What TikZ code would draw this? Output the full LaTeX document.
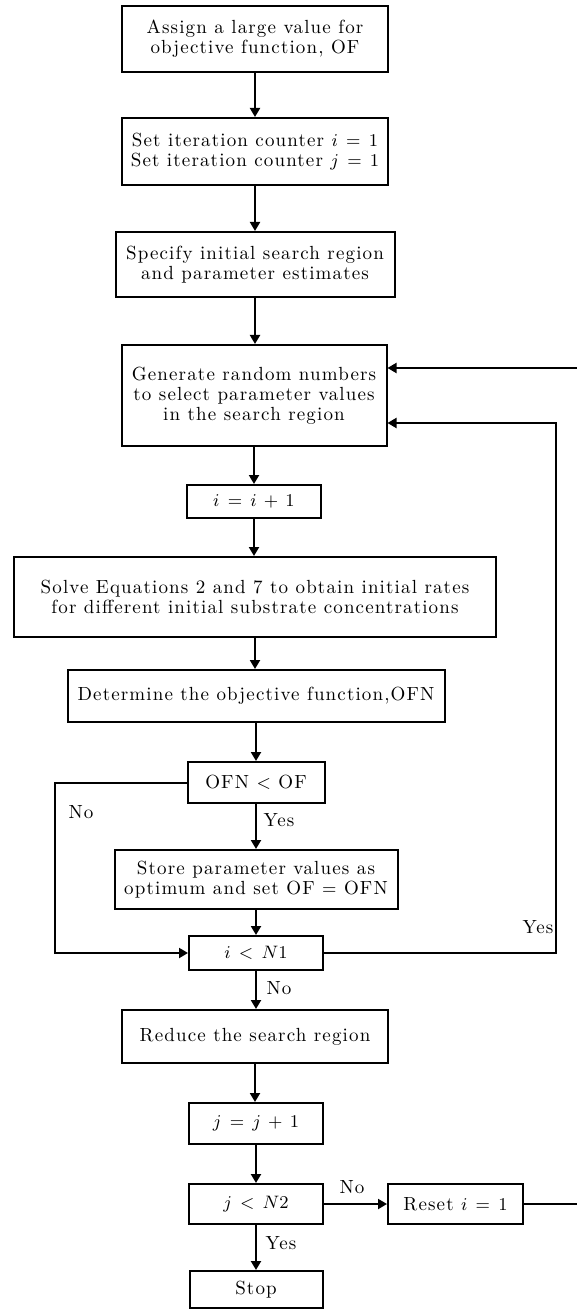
\documentclass[tikz,border=0pt]{standalone}
\usepackage{fontspec}
\setmainfont{lmroman10-regular.otf}[LetterSpace=6,BoldFont=lmroman10-bold.otf,ItalicFont=lmroman10-italic.otf]
\usetikzlibrary{arrows.meta}
\newcommand\mywidemath{\thickmuskip=8mu\relax\medmuskip=7mu\relax}
\begin{document}
\begin{tikzpicture}[x=0.5pt,y=-0.5pt,
  every node/.style={font=\fontsize{9.5}{10}\selectfont\mywidemath},
  box/.style={draw,line width=1pt,inner sep=0pt,align=center,anchor=center},
  arr/.style={line width=1pt,-{Triangle[length=4.5pt,width=5pt]}},
  lbl/.style={inner sep=0pt}]
\useasboundingbox (0,0) rectangle (577,1310);
\node[box,minimum width=133pt,minimum height=33pt] (n1) at (255,39) {Assign a large value for\\objective function, OF};
\node[box,minimum width=133pt,minimum height=33.5pt] (n2) at (255,151.5) {Set iteration counter $i=1$\\Set iteration counter $j=1$};
\node[box,minimum width=139.5pt,minimum height=32.5pt] (n3) at (255,264.5) {Specify initial search region\\and parameter estimates};
\node[box,minimum width=132.5pt,minimum height=50.5pt] (n4) at (254,395.5) {Generate random numbers\\to select parameter values\\in the search region};
\node[box,minimum width=67pt,minimum height=16.5pt] (n5) at (254,501.5) {$i=i+1$};
\node[box,minimum width=241pt,minimum height=40pt] (n6) at (255,597) {Solve Equations 2 and 7 to obtain initial rates\\for different initial substrate concentrations};
\node[box,minimum width=188.5pt,minimum height=26pt] (n7) at (256,696) {Determine the objective function,OFN};
\node[box,minimum width=68.5pt,minimum height=20.5pt] (n8) at (256,782.5) {OFN $<$ OF};
\node[box,minimum width=141.5pt,minimum height=29.5pt] (n9) at (256,879.5) {Store parameter values as\\optimum and set OF $=$ OFN};
\node[box,minimum width=67pt,minimum height=17pt] (n10) at (256,953) {$i<N1$};
\node[box,minimum width=133pt,minimum height=26.5pt] (n11) at (255,1036.5) {Reduce the search region};
\node[box,minimum width=67pt,minimum height=20.5pt] (n12) at (256,1123.5) {$j=j+1$};
\node[box,minimum width=67pt,minimum height=20pt] (n13) at (256,1204) {$j<N2$};
\node[box,minimum width=67.5pt,minimum height=20pt] (n14) at (455.5,1204) {Reset $i=1$};
\node[box,minimum width=66.5pt,minimum height=18.5pt] (n15) at (256,1289.5) {Stop};
% vertical flow
\draw[arr] (n1.south) -- (n1.south |- n2.north);
\draw[arr] (n2.south) -- (n2.south |- n3.north);
\draw[arr] (n3.south) -- (n3.south |- n4.north);
\draw[arr] (n4.south) -- (n4.south |- n5.north);
\draw[arr] (n5.south) -- (n5.south |- n6.north);
\draw[arr] (n6.south) -- (n6.south |- n7.north);
\draw[arr] (n7.south) -- (n7.south |- n8.north);
\draw[arr] (n8.south) -- (n8.south |- n9.north);
\draw[arr] (n9.south) -- (n9.south |- n10.north);
\draw[arr] (n10.south) -- (n10.south |- n11.north);
\draw[arr] (n11.south) -- (n11.south |- n12.north);
\draw[arr] (n12.south) -- (n12.south |- n13.north);
\draw[arr] (n13.south) -- (n13.south |- n15.north);
\draw[arr] (n13.east) -- (n14.west);
% No branch of OFN < OF
\coordinate (cno) at (55,953);
\draw[arr] (n8.west) -| (cno) -- (n10.west);
% Yes branch of i < N1
\coordinate (cyes) at (556,423);
\draw[arr] (n10.east) -| (cyes) -- (cyes -| n4.east);
% outer loop from Reset i = 1 (runs past the right edge)
\coordinate (cout) at (584,368);
\draw[arr] (n14.east) -| (cout) -- (cout -| n4.east);
% labels
\node[lbl] (l1) at (81,812) {No};
\node[lbl] (l2) at (279,820) {Yes};
\node[lbl] (l3) at (538,927) {Yes};
\node[lbl] (l4) at (279,988) {No};
\node[lbl] (l5) at (352,1187) {No};
\node[lbl] (l6) at (281,1243) {Yes};
\end{tikzpicture}
\end{document}
